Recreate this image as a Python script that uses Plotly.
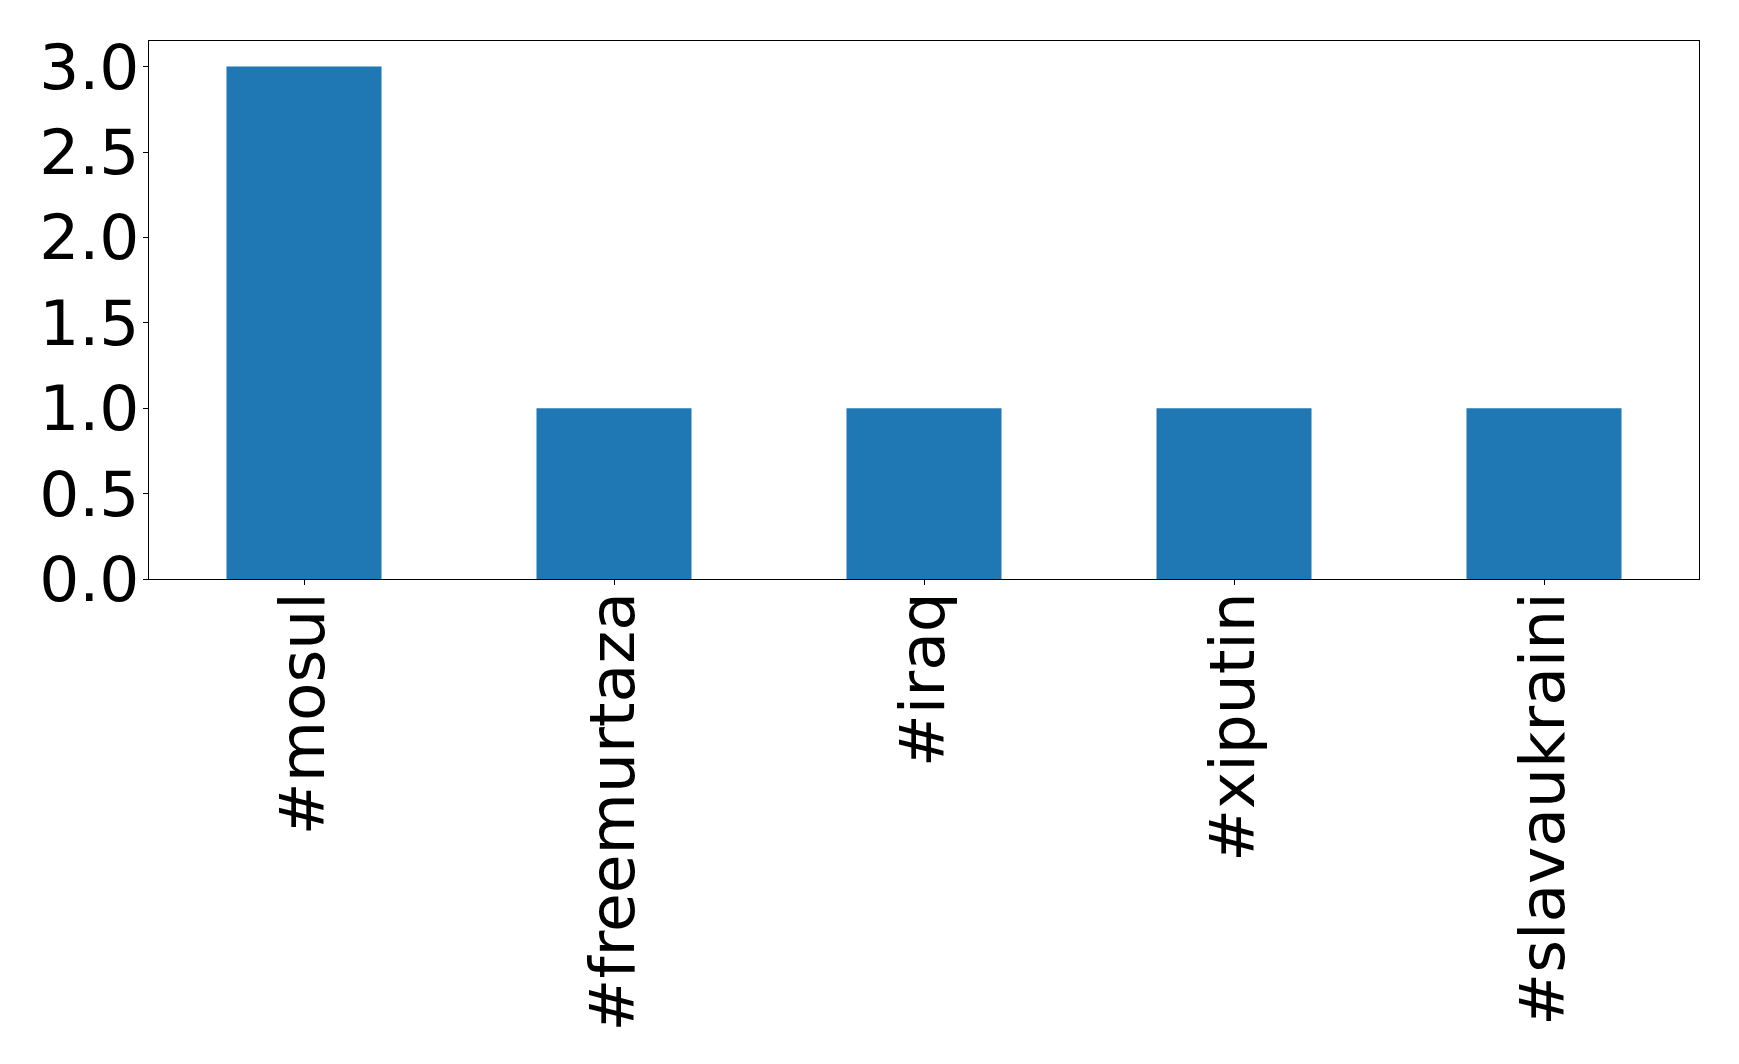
import plotly.graph_objects as go

categories = ["#mosul", "#freemurtaza", "#iraq", "#xiputin", "#slavaukraini"]
counts = [3, 1, 1, 1, 1]
y_ticks = [0.0, 0.5, 1.0, 1.5, 2.0, 2.5, 3.0]

fig = go.Figure(
    go.Bar(
        x=list(range(len(categories))),
        y=counts,
        width=0.5,
        marker=dict(color="#1f77b4", line=dict(width=0)),
    )
)

font = dict(family="DejaVu Sans", size=63, color="black")

fig.update_layout(
    width=1739,
    height=1064,
    margin=dict(l=141, r=48, t=33, b=493),
    paper_bgcolor="white",
    plot_bgcolor="white",
    showlegend=False,
    font=font,
)
fig.update_xaxes(
    range=[-0.5, len(categories) - 0.5],
    tickmode="array",
    tickvals=list(range(len(categories))),
    ticktext=categories,
    tickangle=-90,
    ticks="outside",
    ticklen=5,
    tickwidth=1,
    tickcolor="black",
    ticklabelstandoff=-18,
    showline=True,
    linecolor="black",
    linewidth=1,
    mirror=True,
    showgrid=False,
    zeroline=False,
    tickfont=font,
)
fig.update_yaxes(
    range=[0, 3.15],
    tickmode="array",
    tickvals=y_ticks,
    ticktext=[f"{v:.1f}" for v in y_ticks],
    ticks="outside",
    ticklen=5,
    tickwidth=1,
    tickcolor="black",
    ticklabelstandoff=-9,
    showline=True,
    linecolor="black",
    linewidth=1,
    mirror=True,
    showgrid=False,
    zeroline=False,
    tickfont=font,
)

fig.write_html("out.html")
